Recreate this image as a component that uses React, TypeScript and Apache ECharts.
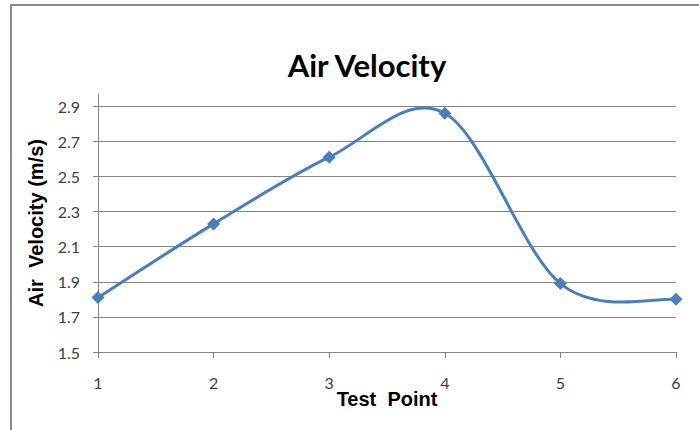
import React, { useEffect, useRef } from "react";
import * as echarts from "echarts";

const testPoints = [1, 2, 3, 4, 5, 6];
const airVelocity = [1.81, 2.23, 2.61, 2.86, 1.89, 1.8];
const yTicks = [1.5, 1.7, 1.9, 2.1, 2.3, 2.5, 2.7, 2.9];

const lineColor = "#4a7ebb";

export default function App() {
  const ref = useRef<HTMLDivElement>(null);
  useEffect(() => {
    if (!ref.current) return;
    const chart = echarts.init(ref.current, undefined, { renderer: "svg" });
    const axisColor = "#868686";
    chart.setOption({
      animation: false,
      backgroundColor: "#ffffff",
      title: {
        text: "Air Velocity",
        left: 362,
        top: 44,
        textAlign: "center",
        textStyle: { fontFamily: "Lato", fontWeight: "bold", fontSize: 31, color: "#000" },
      },
      graphic: [
        {
          type: "rect",
          shape: { x: 11, y: 5, width: 900, height: 900 },
          style: { fill: "none", stroke: "#8c8c8c", lineWidth: 2 },
          silent: true,
        },
      ],
      grid: { left: 98, right: 23, top: 94, bottom: 78, containLabel: false, outerBoundsMode: "none" },
      xAxis: {
        type: "value",
        min: 1,
        max: 6,
        interval: 1,
        name: "Test  Point",
        nameLocation: "middle",
        nameGap: 37,
        nameMoveOverlap: false,
        nameTextStyle: { fontFamily: "Liberation Sans", fontWeight: "bold", fontSize: 20, color: "#000" },
        axisLine: { show: true, lineStyle: { color: axisColor, width: 1 } },
        axisTick: { show: true, length: 6, lineStyle: { color: axisColor } },
        axisLabel: { margin: 22, fontFamily: "Lato", fontSize: 16, color: "#404040" },
        splitLine: { show: false },
      },
      yAxis: {
        type: "value",
        min: 1.5,
        max: 2.97,
        interval: 0.2,
        name: "Air  Velocity (m/s)",
        nameLocation: "middle",
        nameGap: 52,
        nameMoveOverlap: false,
        nameTextStyle: { fontFamily: "Liberation Sans", fontWeight: "bold", fontSize: 20, color: "#000" },
        axisLine: { show: true, lineStyle: { color: axisColor, width: 1 } },
        axisTick: { show: true, length: 5, lineStyle: { color: axisColor } },
        axisLabel: {
          margin: 18,
          fontFamily: "Lato",
          fontSize: 16,
          color: "#404040",
          showMaxLabel: false,
          formatter: (v: number) => {
            const t = yTicks.find((y) => Math.abs(y - v) < 1e-6);
            return t === undefined ? "" : t.toFixed(1);
          },
        },
        splitLine: { show: true, showMaxLine: false, lineStyle: { color: axisColor, width: 1 } },
      },
      series: [
        {
          type: "custom",
          data: [[testPoints[0], airVelocity[0]]],
          silent: true,
          z: 2,
          renderItem: (_params: any, api: any) => {
            const pts = testPoints.map((x, i) => api.coord([x, airVelocity[i]]));
            const n = pts.length;
            const children: any[] = [];
            for (let i = 0; i < n - 1; i++) {
              const p0 = pts[Math.max(0, i - 1)];
              const p1 = pts[i];
              const p2 = pts[i + 1];
              const p3 = pts[Math.min(n - 1, i + 2)];
              const f = 6;
              children.push({
                type: "bezierCurve",
                shape: {
                  x1: p1[0],
                  y1: p1[1],
                  cpx1: p1[0] + (p2[0] - p0[0]) / f,
                  cpy1: p1[1] + (p2[1] - p0[1]) / f,
                  cpx2: p2[0] - (p3[0] - p1[0]) / f,
                  cpy2: p2[1] - (p3[1] - p1[1]) / f,
                  x2: p2[0],
                  y2: p2[1],
                },
                style: { stroke: lineColor, fill: "none", lineWidth: 3 },
              });
            }
            return { type: "group", children };
          },
        },
        {
          type: "line",
          data: testPoints.map((x, i) => [x, airVelocity[i]]),
          symbol: "diamond",
          symbolSize: 13,
          z: 3,
          lineStyle: { width: 0, opacity: 0 },
          itemStyle: { color: lineColor },
        },
      ],
    });
    return () => chart.dispose();
  }, []);
  return (
    <div
      ref={ref}
      style={{ position: "absolute", left: 0, top: 0, width: 699, height: 430 }}
    />
  );
}
